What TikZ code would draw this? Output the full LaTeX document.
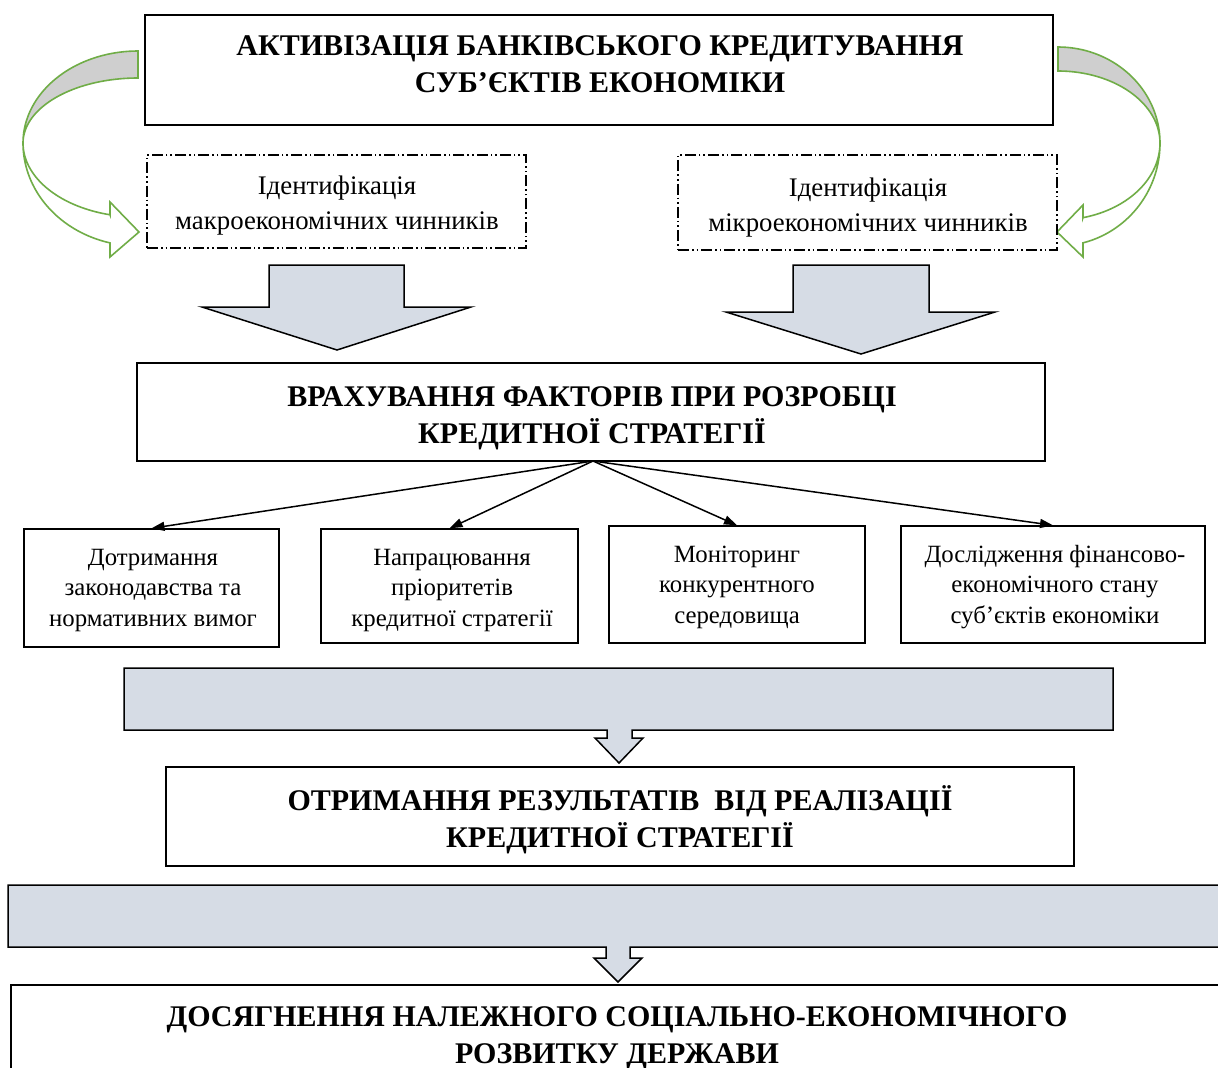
\documentclass[tikz,border=0pt]{standalone}
\usepackage{fontspec}
\setmainfont{Liberation Serif}
\usetikzlibrary{arrows.meta}
\definecolor{gframe}{HTML}{70AD47}
\definecolor{gback}{HTML}{CFCFCF}
\definecolor{bfill}{HTML}{D6DCE5}

\begin{document}
\begin{tikzpicture}[x=1pt,y=-1pt,
  heavybox/.style={draw, line width=1.6pt, inner sep=0pt},
  dashbox/.style={draw, line width=1.2pt, inner sep=0pt,
    dash pattern=on 11pt off 3pt on 1.6pt off 3pt on 1.6pt off 3pt},
  itembox/.style={draw, line width=1.4pt, inner sep=0pt},
  headtext/.style={font=\fontsize{30}{37}\selectfont\bfseries, align=center, inner sep=0pt},
  plaintext/.style={font=\fontsize{26.8}{35}\selectfont, align=center, inner sep=0pt},
  itemtext/.style={font=\fontsize{24.8}{30.5}\selectfont, align=center, inner sep=0pt},
  blockarrow/.style={draw, fill=bfill, line width=1.5pt, line join=miter},
  greenband/.style={draw=gframe, line width=1.6pt, line join=miter},
  link/.style={line width=1.5pt, -{Triangle[length=13pt,width=9pt]}}
]
\clip (0,0) rectangle (1218,1068);
\fill[white] (0,0) rectangle (1218,1068);

% --- curved green arrows on both sides of the top box
\path[greenband, fill=gback]
  plot[domain=90:180, samples=40, variable=\t] ({138+115*cos(\t)}, {143-92*sin(\t)})
  -- plot[domain=180:90, samples=40, variable=\t] ({138+115*cos(\t)}, {143-65*sin(\t)})
  -- cycle;
\path[greenband, fill=white]
  plot[domain=180:255.9, samples=40, variable=\t] ({138+115*cos(\t)}, {143-103*sin(\t)})
  -- (110,257) -- (139,232) -- (110,202) -- (110,214.8)
  -- plot[domain=255.9:180, samples=40, variable=\t] ({138+115*cos(\t)}, {143-74*sin(\t)})
  -- cycle;

\path[greenband, fill=gback]
  plot[domain=90:0, samples=40, variable=\t] ({1058+102*cos(\t)}, {143-96*sin(\t)})
  -- plot[domain=0:90, samples=40, variable=\t] ({1058+102*cos(\t)}, {143-72*sin(\t)})
  -- cycle;
\path[greenband, fill=white]
  plot[domain=0:-75.8, samples=40, variable=\t] ({1058+102*cos(\t)}, {143-103*sin(\t)})
  -- (1083,257) -- (1057,232) -- (1083,205) -- (1083,217.7)
  -- plot[domain=-75.8:0, samples=40, variable=\t] ({1058+102*cos(\t)}, {143-77*sin(\t)})
  -- cycle;

% --- top goal (text anchors sit on the baseline of the last line)
\node[heavybox, fill=white, minimum width=908pt, minimum height=110pt] (goal) at (599,70) {};
\node[headtext, anchor=base] (goaltext) at (600,92)
  {АКТИВІЗАЦІЯ БАНКІВСЬКОГО КРЕДИТУВАННЯ\\СУБ’ЄКТІВ ЕКОНОМІКИ};

% --- identification of factors
\node[dashbox, minimum width=379pt, minimum height=93pt] (macro) at (336.5,201.5) {};
\node[plaintext, anchor=base] (macrotext) at (337,229)
  {Ідентифікація\\макроекономічних чинників};
\node[dashbox, minimum width=379pt, minimum height=95pt] (micro) at (867.5,202.5) {};
\node[plaintext, anchor=base] (microtext) at (868,231)
  {Ідентифікація\\мікроекономічних чинників};

% --- wide block arrows
\draw[blockarrow] (269,265) -- (404,265) -- (404,307) -- (471,307) -- (337,350)
  -- (202,307) -- (269,307) -- cycle;
\draw[blockarrow] (793,265) -- (929,265) -- (929,312) -- (995,312) -- (861,354)
  -- (726,312) -- (793,312) -- cycle;

% --- strategy
\node[heavybox, minimum width=908pt, minimum height=98pt] (strategy) at (591,412) {};
\node[headtext, anchor=base] (strategytext) at (592,443)
  {ВРАХУВАННЯ ФАКТОРІВ ПРИ РОЗРОБЦІ\\КРЕДИТНОЇ СТРАТЕГІЇ};

% --- four directions
\node[itembox, minimum width=255pt, minimum height=118pt] (law) at (151.5,588) {};
\node[itemtext, anchor=base] (lawtext) at (153,626)
  {Дотримання\\законодавства та\\нормативних вимог};
\node[itembox, minimum width=257pt, minimum height=114pt] (prior) at (449.5,586) {};
\node[itemtext, anchor=base] (priortext) at (452,626)
  {Напрацювання\\пріоритетів\\кредитної стратегії};
\node[itembox, minimum width=256pt, minimum height=117pt] (monitor) at (737,584.5) {};
\node[itemtext, anchor=base] (monitortext) at (737,623)
  {Моніторинг\\конкурентного\\середовища};
\node[itembox, minimum width=304pt, minimum height=117pt] (research) at (1053,584.5) {};
\node[itemtext, anchor=base] (researchtext) at (1055,623)
  {Дослідження фінансово-\\економічного стану\\суб’єктів економіки};

\coordinate (hub) at (593,461);
\draw[link] (hub) -- (law.north);
\draw[link] (hub) -- (prior.north);
\draw[link] (hub) -- (monitor.north);
\draw[link] (hub) -- (research.north);

% --- band arrows
\draw[blockarrow] (124,668) -- (1113,668) -- (1113,730) -- (632,730) -- (632,738)
  -- (643,738) -- (619,763) -- (595,738) -- (607,738) -- (607,730) -- (124,730) -- cycle;

\node[heavybox, minimum width=908pt, minimum height=99pt] (result) at (620,816.5) {};
\node[headtext, anchor=base] (resulttext) at (620,847)
  {ОТРИМАННЯ РЕЗУЛЬТАТІВ\ \ ВІД РЕАЛІЗАЦІЇ\\КРЕДИТНОЇ СТРАТЕГІЇ};

\draw[blockarrow] (8,885) -- (1240,885) -- (1240,947) -- (630,947) -- (630,958)
  -- (642,958) -- (618,982) -- (594,958) -- (606,958) -- (606,947) -- (8,947) -- cycle;

\node[heavybox, anchor=north west, minimum width=1240pt, minimum height=120pt] (final) at (10,984) {};
\node[headtext, anchor=base] (finaltext) at (617,1063)
  {ДОСЯГНЕННЯ НАЛЕЖНОГО СОЦІАЛЬНО-ЕКОНОМІЧНОГО\\РОЗВИТКУ ДЕРЖАВИ};
\end{tikzpicture}
\end{document}
